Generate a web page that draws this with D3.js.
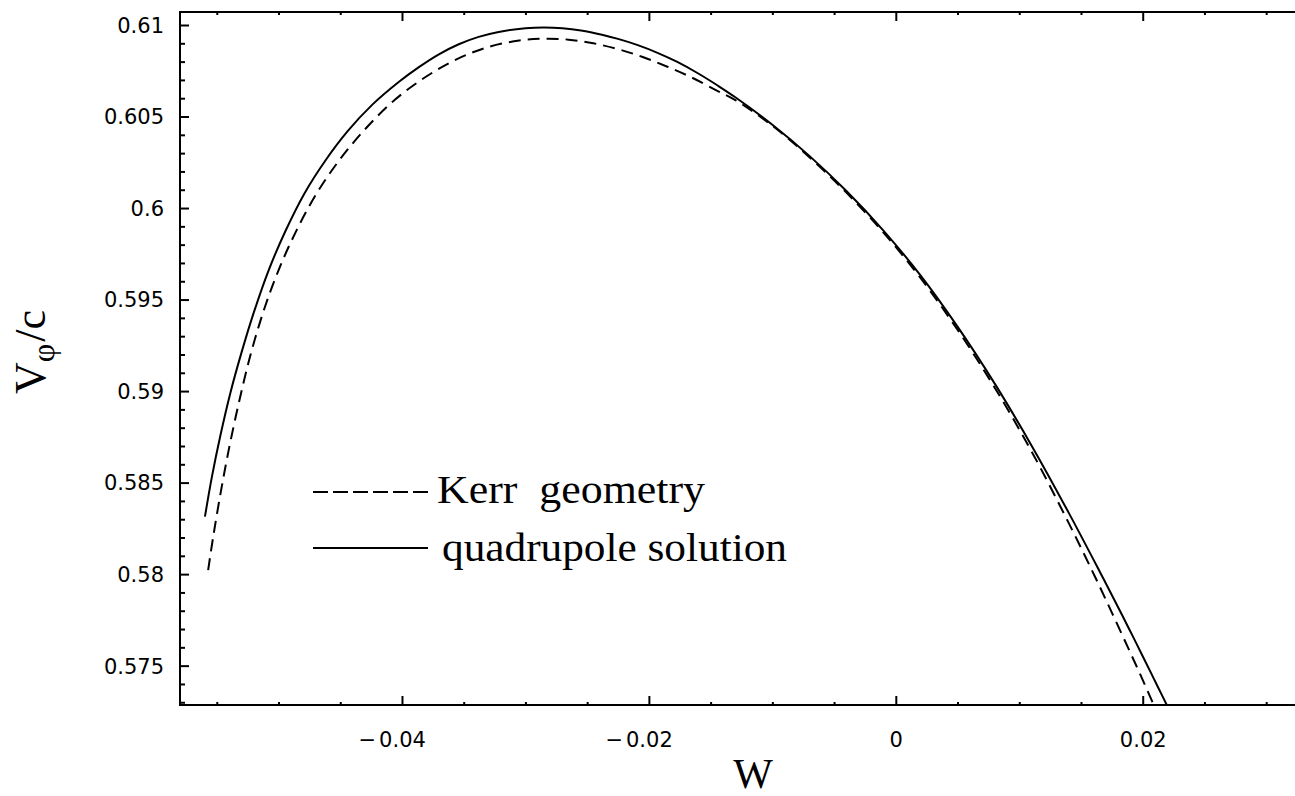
<!DOCTYPE html>
<html>
<head>
<meta charset="utf-8">
<script src="https://cdn.jsdelivr.net/npm/d3@7"></script>
<style>
  html, body { margin: 0; padding: 0; background: #fff; }
  svg { display: block; }
</style>
</head>
<body>
<svg id="chart" width="1295" height="796"></svg>
<script>
// Rotational velocity V_phi/c against W for the two geometries.
const kerrW = [-0.05570, -0.05530, -0.05470, -0.05400, -0.05320, -0.05230, -0.05120, -0.05000,
  -0.04860, -0.04700, -0.04520, -0.04300, -0.04060, -0.03800, -0.03550, -0.03300, -0.03050,
  -0.02850, -0.02650, -0.02450, -0.02250, -0.02050, -0.01850, -0.01650, -0.01450, -0.0130,
  -0.0100, -0.0070, -0.0040, -0.0010, 0.0020, 0.0050, 0.0080, 0.0110, 0.0140, 0.0160,
  0.0175, 0.0188, 0.0198, 0.0208, 0.0209];
const kerrV = [0.58022, 0.58200, 0.58440, 0.58690, 0.58940, 0.59190, 0.59440, 0.59660,
  0.59870, 0.60070, 0.60250, 0.60430, 0.60590, 0.60720, 0.60815, 0.60880, 0.60915,
  0.60925, 0.60920, 0.60900, 0.60868, 0.60825, 0.60772, 0.60712, 0.60642, 0.60590,
  0.60450, 0.60278, 0.60084, 0.59866, 0.59618, 0.59335, 0.59020, 0.58670, 0.58280, 0.58005,
  0.57790, 0.57600, 0.57452, 0.57300, 0.57285];

const quadW = [-0.05596, -0.05540, -0.05470, -0.05390, -0.05300, -0.05200, -0.05080, -0.04940,
  -0.04790, -0.04620, -0.04440, -0.04240, -0.04024, -0.03863, -0.03701, -0.03540, -0.03379,
  -0.03217, -0.0300, -0.0285, -0.0270, -0.0255, -0.0238, -0.0225, -0.0209, -0.0193,
  -0.0177, -0.0160, -0.0144, -0.0130, -0.0100, -0.0070, -0.0040, -0.0010, 0.0020,
  0.0050, 0.0080, 0.0110, 0.0140, 0.0165, 0.01837, 0.01917, 0.01998, 0.02065, 0.02119,
  0.02195];
const quadV = [0.58314, 0.58530, 0.58760, 0.58990, 0.59210, 0.59430, 0.59660, 0.59880,
  0.60080, 0.60260, 0.60420, 0.60565, 0.60690, 0.60770, 0.60840, 0.60895, 0.60935,
  0.60962, 0.60982, 0.60986, 0.60982, 0.60970, 0.60947, 0.60924, 0.60890, 0.60848,
  0.60798, 0.60735, 0.60668, 0.60605, 0.60455, 0.60285, 0.60093, 0.59877, 0.59632,
  0.59352, 0.59042, 0.58702, 0.58336, 0.58016, 0.57771, 0.57664, 0.57554, 0.57463, 0.57389,
  0.57285];

const xTickValues = [-0.04, -0.02, 0, 0.02];
const xTickLabels = ["\u22120.04", "\u22120.02", "0", "0.02"];
const yTickValues = [0.575, 0.58, 0.585, 0.59, 0.595, 0.6, 0.605, 0.61];
const yTickLabels = ["0.575", "0.58", "0.585", "0.59", "0.595", "0.6", "0.605", "0.61"];
const xMinorStep = 0.005;
const yMinorStep = 0.001;

const seriesNames = ["Kerr  geometry", "quadrupole solution"];

const svg = d3.select("#chart");
const plotLeft = 180, plotRight = 1300, plotTop = 12, plotBottom = 705;

const x = d3.scaleLinear().domain([-0.05798, 0.03274]).range([plotLeft, plotRight]);
const y = d3.scaleLinear().domain([0.57285, 0.61071]).range([plotBottom, plotTop]);

const tickFont = "'DejaVu Sans', sans-serif";
const serif = "'Liberation Serif', 'Times New Roman', serif";

// minor tick positions
const xMinor = d3.range(-0.055, 0.0330, xMinorStep).map(v => +v.toFixed(4))
  .filter(v => !xTickValues.some(t => Math.abs(t - v) < 1e-9));
const yMinor = d3.range(0.573, 0.6105, yMinorStep).map(v => +v.toFixed(4))
  .filter(v => !yTickValues.some(t => Math.abs(t - v) < 1e-9));

function clean(g) {
  g.select(".domain").remove();
  g.selectAll(".tick line").attr("stroke", "#000").attr("stroke-width", 2);
}

// bottom axis
svg.append("g").attr("transform", `translate(0,${plotBottom})`)
  .call(d3.axisBottom(x).tickValues(xMinor).tickSize(-3).tickFormat(""))
  .call(clean);
const xMajor = svg.append("g").attr("transform", `translate(0,${plotBottom})`)
  .call(d3.axisBottom(x).tickValues(xTickValues).tickSize(-9)
    .tickFormat((d, i) => xTickLabels[i].replace("\u2212", "")))
  .call(clean);
xMajor.selectAll(".tick text")
  .attr("y", 42).attr("dy", null)
  .attr("font-family", tickFont).attr("font-size", 21).attr("fill", "#000");
// minus signs sit left of the centred number
xMajor.selectAll(".tick").each(function (d, i) {
  if (!xTickLabels[i].startsWith("\u2212")) return;
  const t = d3.select(this).select("text");
  const w = t.node().getComputedTextLength();
  d3.select(this).append("text")
    .attr("x", -w / 2 - 3).attr("y", 42)
    .attr("text-anchor", "end")
    .attr("font-family", tickFont).attr("font-size", 21).attr("fill", "#000")
    .text("\u2212");
});

// top axis
svg.append("g").attr("transform", `translate(0,${plotTop})`)
  .call(d3.axisTop(x).tickValues(xMinor).tickSize(-3).tickFormat(""))
  .call(clean);
svg.append("g").attr("transform", `translate(0,${plotTop})`)
  .call(d3.axisTop(x).tickValues(xTickValues).tickSize(-9).tickFormat(""))
  .call(clean);

// left axis
svg.append("g").attr("transform", `translate(${plotLeft},0)`)
  .call(d3.axisLeft(y).tickValues(yMinor).tickSize(-5).tickFormat(""))
  .call(clean);
const yMajor = svg.append("g").attr("transform", `translate(${plotLeft},0)`)
  .call(d3.axisLeft(y).tickValues(yTickValues).tickSize(-9)
    .tickFormat((d, i) => yTickLabels[i]))
  .call(clean);
yMajor.selectAll(".tick text")
  .attr("x", -16).attr("dy", "0.35em")
  .attr("font-family", tickFont).attr("font-size", 21).attr("fill", "#000");

// frame
svg.append("rect")
  .attr("x", plotLeft).attr("y", plotTop)
  .attr("width", plotRight - plotLeft).attr("height", plotBottom - plotTop)
  .attr("fill", "none").attr("stroke", "#000").attr("stroke-width", 2);

// curves
svg.append("clipPath").attr("id", "plotArea")
  .append("rect").attr("x", plotLeft).attr("y", plotTop)
  .attr("width", plotRight - plotLeft).attr("height", plotBottom - plotTop);

const line = d3.line()
  .x(d => x(d[0])).y(d => y(d[1]))
  .curve(d3.curveCatmullRom.alpha(0.5));

const kerr = kerrW.map((w, i) => [w, kerrV[i]]);
const quad = quadW.map((w, i) => [w, quadV[i]]);

const curves = svg.append("g").attr("clip-path", "url(#plotArea)");
curves.append("path").datum(kerr)
  .attr("d", line).attr("fill", "none").attr("stroke", "#000")
  .attr("stroke-width", 2).attr("stroke-dasharray", "12,7");
curves.append("path").datum(quad)
  .attr("d", line).attr("fill", "none").attr("stroke", "#000")
  .attr("stroke-width", 2);

// legend
const legend = svg.append("g");
legend.append("line")
  .attr("x1", 313).attr("x2", 430).attr("y1", 492).attr("y2", 492)
  .attr("stroke", "#000").attr("stroke-width", 2).attr("stroke-dasharray", "15,5");
legend.append("text")
  .attr("x", 437).attr("y", 503)
  .attr("font-family", serif).attr("font-size", 40)
  .attr("textLength", 268).attr("lengthAdjust", "spacingAndGlyphs")
  .style("white-space", "pre")
  .text(seriesNames[0]);
legend.append("line")
  .attr("x1", 313).attr("x2", 428).attr("y1", 548).attr("y2", 548)
  .attr("stroke", "#000").attr("stroke-width", 2);
legend.append("text")
  .attr("x", 442).attr("y", 561)
  .attr("font-family", serif).attr("font-size", 40)
  .attr("textLength", 345).attr("lengthAdjust", "spacingAndGlyphs")
  .text(seriesNames[1]);

// axis titles
svg.append("text")
  .attr("x", 753).attr("y", 788)
  .attr("text-anchor", "middle")
  .attr("font-family", serif).attr("font-size", 42)
  .text("W");

const yTitle = svg.append("text")
  .attr("transform", "translate(45,352) rotate(-90)")
  .attr("text-anchor", "middle")
  .attr("font-family", serif).attr("font-size", 44);
yTitle.append("tspan").text("V");
yTitle.append("tspan").attr("font-size", 32).attr("dy", 9).text("\u03c6");
yTitle.append("tspan").attr("dy", -9).attr("dx", 2).text("/c");
</script>
</body>
</html>
